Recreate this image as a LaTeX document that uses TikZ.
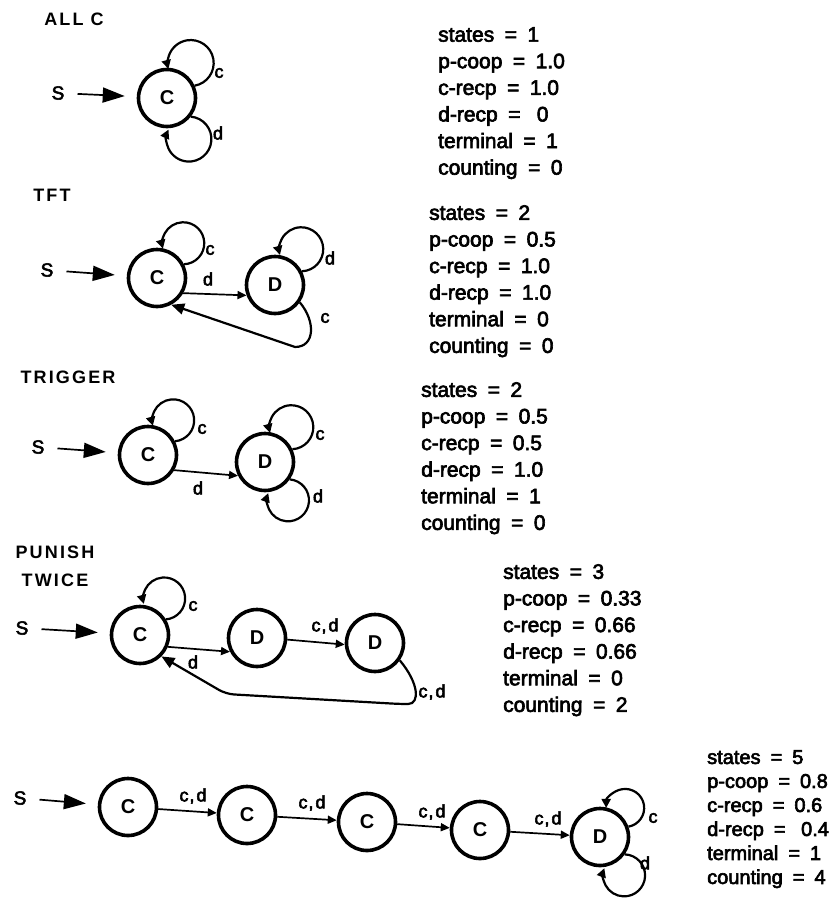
\documentclass[tikz,border=0pt]{standalone}
\usepackage{fontspec}
\setmainfont{Liberation Sans}
\newfontfamily\titlefont[LetterSpace=12]{Liberation Sans}
\newfontfamily\heavyfont[FakeBold=3]{Liberation Sans}
\usetikzlibrary{arrows.meta}
% spaced equals sign used in the statistics lists
\newcommand{\isq}{\hspace{0.5em}=\hspace{0.5em}}

\begin{document}
\begin{tikzpicture}[x=1pt,y=1pt,
  state/.style={circle, draw, line width=3.6pt, minimum size=57pt, inner sep=0pt,
    font=\fontsize{20}{20}\selectfont\bfseries},
  title/.style={font=\titlefont\fontsize{18}{28}\selectfont\bfseries, align=center, inner sep=0pt},
  start/.style={font=\heavyfont\fontsize{19}{19}\selectfont, inner sep=0pt},
  startarrow/.style={line width=1.7pt, -{Triangle[length=22pt,width=15pt]},
    shorten <=13pt, shorten >=12pt},
  trans/.style={line width=1.7pt, -{Triangle[length=9pt,width=8pt]}},
  loopline/.style={line width=2.2pt, -{Triangle[length=9pt,width=9pt]}},
  back/.style={line width=2.2pt, -{Triangle[length=13pt,width=11pt]}},
  elabel/.style={font=\heavyfont\fontsize{18}{18}\selectfont, inner sep=0pt},
  stats/.style={font=\heavyfont\fontsize{21}{26.6}\selectfont, align=left, anchor=north west, inner sep=0pt},
]
\fill[white] (0,0) rectangle (834,-902);
\useasboundingbox (0,0) rectangle (834,-902);

% ---------------- ALL C ----------------
\node[title] (t1) at (74,-19) {ALL C};
\node[start] (s1) at (58,-93) {S};
\node[state] (a1) at (167,-98) {C};
\draw[startarrow] (s1) -- (a1);
\draw[loopline] (a1.24) arc[start angle=-80, end angle=195, radius=23];
\node[elabel] (a1c) at (219,-73) {c};
\draw[loopline] (a1.-38) arc[start angle=85, end angle=-205, radius=22.5];
\node[elabel] (a1d) at (218,-133) {d};
\node[stats] (st1) at (438,-27) {states\isq 1\\ p-coop\isq 1.0\\ c-recp\isq 1.0\\
  d-recp\isq\ 0\\ terminal\isq 1\\ counting\isq 0};

% ---------------- TFT ----------------
\node[title] (t2) at (52,-195) {TFT};
\node[start] (s2) at (47,-270) {S};
\node[state] (b1) at (157,-278) {C};
\node[state] (b2) at (275,-285) {D};
\draw[startarrow] (s2) -- (b1);
\draw[trans] (b1.-30) -- (b2.200);
\node[elabel] (b12) at (208,-279) {d};
\draw[loopline] (b1.27) arc[start angle=-88, end angle=195, radius=21];
\node[elabel] (b1c) at (210,-250) {c};
\draw[loopline] (b2.27) arc[start angle=-88, end angle=195, radius=22];
\node[elabel] (b2d) at (330,-258) {d};
\draw[back] (b2.-35) .. controls +(-50:25) and +(0:20) .. (295,-347) -- (b1.-62);
\node[elabel] (b21) at (325,-318) {c};
\node[stats] (st2) at (429,-205) {states\isq 2\\ p-coop\isq 0.5\\ c-recp\isq 1.0\\
  d-recp\isq 1.0\\ terminal\isq 0\\ counting\isq 0};

% ---------------- TRIGGER ----------------
\node[title] (t3) at (68,-377) {TRIGGER};
\node[start] (s3) at (38,-447) {S};
\node[state] (c1) at (148,-455) {C};
\node[state] (c2) at (265,-462) {D};
\draw[startarrow] (s3) -- (c1);
\draw[trans] (c1.-30) -- (c2.207);
\node[elabel] (c12) at (198,-488) {d};
\draw[loopline] (c1.27) arc[start angle=-85, end angle=195, radius=21];
\node[elabel] (c1c) at (202,-429) {c};
\draw[loopline] (c2.25) arc[start angle=-87, end angle=195, radius=22];
\node[elabel] (c2c) at (320,-435) {c};
\draw[loopline] (c2.-35) arc[start angle=85, end angle=-200, radius=21];
\node[elabel] (c2d) at (318,-496) {d};
\node[stats] (st3) at (421,-382) {states\isq 2\\ p-coop\isq 0.5\\ c-recp\isq 0.5\\
  d-recp\isq 1.0\\ terminal\isq 1\\ counting\isq 0};

% ---------------- PUNISH TWICE ----------------
\node[title] (t4) at (55,-566) {PUNISH\\TWICE};
\node[start] (s4) at (22,-628) {S};
\node[state] (d1) at (140,-635) {C};
\node[state] (d2) at (257,-638) {D};
\node[state] (d3) at (375,-643) {D};
\draw[startarrow] (s4) -- (d1);
\draw[loopline] (d1.31) arc[start angle=-85, end angle=195, radius=21];
\node[elabel] (d1c) at (193,-606) {c};
\draw[trans] (d1.-23) -- (d2.207);
\node[elabel] (d12) at (193,-662) {d};
\draw[trans] (d2.-3) -- (d3.183);
\node[elabel] (d23) at (325,-626) {c\kern1pt,\kern2pt d};
\draw[back, rounded corners=8pt] (d3.-35) .. controls +(-50:30) and +(0:20) .. (400,-704)
  -- (226,-694) -- (d1.-45);
\node[elabel] (d31) at (432,-692) {c\kern1pt,\kern2pt d};
\node[stats] (st4) at (503,-564) {states\isq 3\\ p-coop\isq 0.33\\ c-recp\isq 0.66\\
  d-recp\isq 0.66\\ terminal\isq 0\\ counting\isq 2};

% ---------------- counting chain ----------------
\node[start] (s5) at (20,-798) {S};
\node[state] (e1) at (128,-807) {C};
\node[state] (e2) at (247,-815) {C};
\node[state] (e3) at (367,-822) {C};
\node[state] (e4) at (480,-830) {C};
\node[state] (e5) at (600,-837) {D};
\draw[startarrow] (s5) -- (e1);
\draw[trans] (e1) -- (e2);
\draw[trans] (e2) -- (e3);
\draw[trans] (e3) -- (e4);
\draw[trans] (e4) -- (e5);
\node[elabel] (e12) at (193,-796) {c\kern1pt,\kern2pt d};
\node[elabel] (e23) at (312,-803) {c\kern1pt,\kern2pt d};
\node[elabel] (e34) at (432,-812) {c\kern1pt,\kern2pt d};
\node[elabel] (e45) at (548,-819) {c\kern1pt,\kern2pt d};
\draw[loopline] (e5.20) arc[start angle=-80, end angle=180, radius=19];
\node[elabel] (e5c) at (653,-818) {c};
\draw[loopline] (e5.-35) arc[start angle=88, end angle=-200, radius=21];
\node[elabel] (e5d) at (645,-863) {d};
\node[stats, font=\heavyfont\fontsize{20}{24}\selectfont] (st5) at (707,-750) {states\isq 5\\
  p-coop\isq 0.8\\ c-recp\isq 0.6\\ d-recp\isq\ 0.4\\ terminal\isq 1\\ counting\isq 4};
\end{tikzpicture}
\end{document}
